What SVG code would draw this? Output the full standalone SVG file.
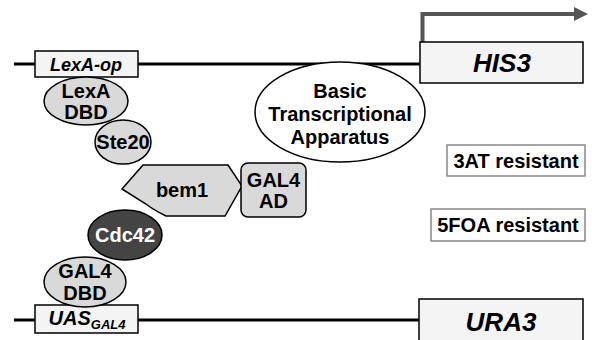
<svg xmlns="http://www.w3.org/2000/svg" width="592" height="340" viewBox="0 0 592 340">
<defs>
<style>
.t{font-family:"Liberation Sans",Arial,sans-serif;font-weight:bold;font-size:20px;fill:#000;text-anchor:middle}
.ti{font-family:"Liberation Sans",Arial,sans-serif;font-weight:bold;font-style:italic;fill:#000;text-anchor:middle}
.p{fill:#d9d9d9;stroke:#000;stroke-width:1.5}
.box{fill:#f4f4f4;stroke:#000;stroke-width:1.5}
.res{fill:#fff;stroke:#888;stroke-width:1.5}
.dna{stroke:#000;stroke-width:3;fill:none}
</style>
<marker id="ah" markerWidth="14" markerHeight="14" refX="2" refY="7" orient="auto" markerUnits="userSpaceOnUse">
<path d="M0,0 L14,7 L0,14 Z" fill="#555"/>
</marker>
</defs>
<g id="connectors">
<line class="dna" x1="14" y1="64" x2="420" y2="64"/>
<line class="dna" x1="14" y1="320" x2="420" y2="320"/>
<path d="M422.5,42 V14 H576" stroke="#555" stroke-width="4" fill="none" marker-end="url(#ah)"/>
</g>
<g id="lexa-op"><rect class="box" x="35" y="51" width="103" height="26"/><text class="ti" x="86" y="71" font-size="18">LexA-op</text></g>
<g id="his3"><rect class="box" x="420" y="42" width="163" height="41"/><text class="ti" x="502" y="72" font-size="26">HIS3</text></g>
<g id="uas"><rect class="box" x="35" y="305" width="103" height="28"/><text class="ti" x="87" y="325" font-size="20">UAS<tspan font-size="13" dy="4">GAL4</tspan></text></g>
<g id="ura3"><rect class="box" x="419" y="299" width="164" height="48"/><text class="ti" x="501" y="331" font-size="26">URA3</text></g>
<g id="bta"><ellipse cx="340" cy="112" rx="85" ry="50" fill="#fff" stroke="#000" stroke-width="1.5"/><text class="t" x="340" y="98">Basic</text><text class="t" x="340" y="121">Transcriptional</text><text class="t" x="340" y="144">Apparatus</text></g>
<g id="lexa-dbd"><ellipse class="p" cx="86" cy="101" rx="42" ry="24"/><text class="t" x="86" y="98">LexA</text><text class="t" x="86" y="119">DBD</text></g>
<g id="ste20"><ellipse class="p" cx="123" cy="142" rx="28" ry="22"/><text class="t" x="123" y="149">Ste20</text></g>
<g id="bem1"><path class="p" fill="#e6e6e6" d="M122,189 L143,165 L228,165 L242,186 L225,216 L166,216 Q152,209 146,204 Z"/><text class="t" x="182" y="197">bem1</text></g>
<g id="gal4-ad"><rect class="p" x="241" y="163" width="65" height="54" rx="7"/><text class="t" x="273.5" y="187">GAL4</text><text class="t" x="273.5" y="208">AD</text></g>
<g id="gal4-dbd"><ellipse class="p" cx="85" cy="282" rx="41" ry="25"/><text class="t" x="85" y="278">GAL4</text><text class="t" x="85" y="300">DBD</text></g>
<g id="cdc42"><ellipse cx="125" cy="235" rx="37" ry="25" fill="#444" stroke="#000" stroke-width="1.5"/><text class="t" x="125" y="242" style="fill:#fff">Cdc42</text></g>
<g id="r3at"><rect class="res" x="447" y="145" width="138" height="31"/><text class="t" x="516" y="168">3AT resistant</text></g>
<g id="r5foa"><rect class="res" x="431" y="209" width="154" height="32"/><text class="t" x="508" y="232">5FOA resistant</text></g>
</svg>
